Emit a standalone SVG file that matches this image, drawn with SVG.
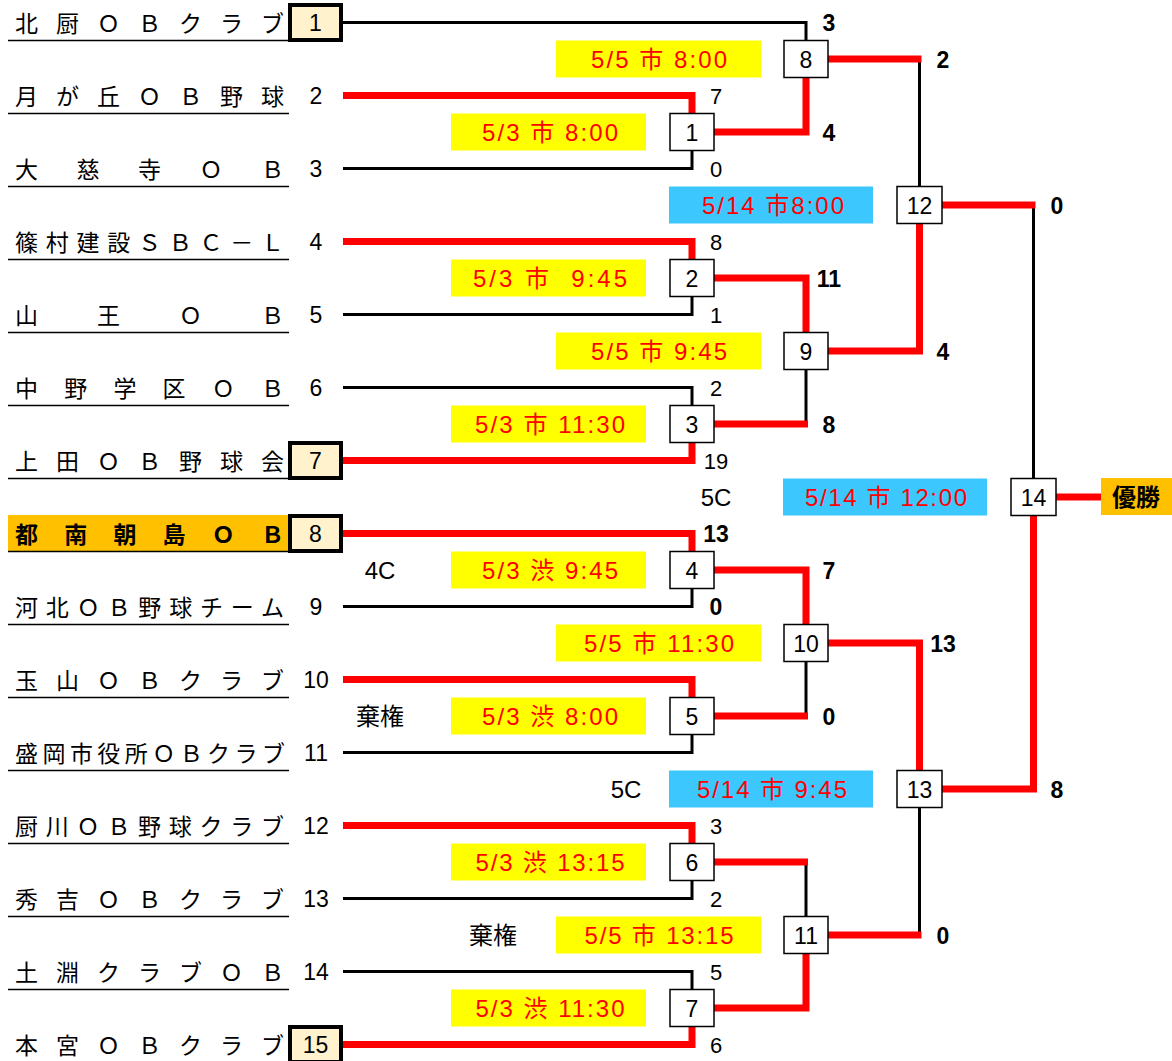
<svg xmlns="http://www.w3.org/2000/svg" width="1172" height="1061" viewBox="0 0 1172 1061">
<style>
.bg{fill:#fff}
.name{font-family:"Noto Sans CJK JP","Noto Sans",sans-serif;font-size:23px;fill:#000}
.nameb{font-weight:bold}
.ul{stroke:#000;stroke-width:1.6;fill:none}
.num{font-family:"Liberation Sans","Noto Sans CJK JP",sans-serif;font-size:23px;fill:#000;text-anchor:middle}
.sc{font-family:"Liberation Sans",sans-serif;font-size:22px;fill:#000;text-anchor:middle}
.scb{font-family:"Liberation Sans",sans-serif;font-size:23px;font-weight:bold;fill:#000;text-anchor:middle}
.seed{fill:#FFF2CC;stroke:#000;stroke-width:4}
.box{fill:#fff;stroke:#000;stroke-width:1.5}
.blk{fill:none;stroke:#000;stroke-width:3;stroke-linejoin:miter}
.red{fill:none;stroke:#FF0000;stroke-width:7;stroke-linejoin:miter}
.yl{fill:#FFFF00}
.bl{fill:#3CC8FF}
.dt{font-family:"Liberation Sans","Noto Sans CJK JP",sans-serif;font-size:24px;fill:#FF0000;text-anchor:middle;white-space:pre}
.note{font-family:"Liberation Sans","Noto Sans CJK JP",sans-serif;font-size:24px;fill:#000;text-anchor:middle}
.win{font-family:"Noto Sans CJK JP",sans-serif;font-size:24px;font-weight:bold;fill:#000;text-anchor:middle}
</style>
<rect class="bg" x="0" y="0" width="1172" height="1061"/>

<g id="connectors">
<path class="blk" d="M343,22.5 H806 V40.5"/>
<path class="blk" d="M343,168.5 H692 V150.5"/>
<path class="blk" d="M343,314.5 H692 V296.5"/>
<path class="blk" d="M343,387.5 H692 V405.5"/>
<path class="blk" d="M343,606.5 H692 V588.5"/>
<path class="blk" d="M343,752.5 H692 V734.5"/>
<path class="blk" d="M343,898.5 H692 V880.5"/>
<path class="blk" d="M343,971.5 H692 V989.5"/>
<path class="blk" d="M806,424 V369.5"/>
<path class="blk" d="M806,716 V661.5"/>
<path class="blk" d="M806,862 V916.5"/>
<path class="blk" d="M919.5,59 V186.5"/>
<path class="blk" d="M919.5,935 V807.5"/>
<path class="blk" d="M1033.5,205 V478.5"/>

<path class="red" d="M343,95.5 H692 V113.5"/>
<path class="red" d="M343,241.5 H692 V259.5"/>
<path class="red" d="M343,460.5 H692 V442.5"/>
<path class="red" d="M343,533.5 H692 V551.5"/>
<path class="red" d="M343,679.5 H692 V697.5"/>
<path class="red" d="M343,825.5 H692 V843.5"/>
<path class="red" d="M343,1044.5 H692 V1026.5"/>
<path class="red" d="M714,132 H806 V77.5"/>
<path class="red" d="M714,278 H806 V332.5"/>
<path class="red" d="M714,424 H808"/>
<path class="red" d="M714,570 H806 V624.5"/>
<path class="red" d="M714,716 H808"/>
<path class="red" d="M714,862 H808"/>
<path class="red" d="M714,1008 H806 V953.5"/>
<path class="red" d="M828,59 H921.5"/>
<path class="red" d="M828,351 H919.5 V223.5"/>
<path class="red" d="M828,643 H919.5 V770.5"/>
<path class="red" d="M828,935 H921.5"/>
<path class="red" d="M942,205 H1035.5"/>
<path class="red" d="M942,789 H1033.5 V515.5"/>
<path class="red" d="M1056,497 H1101"/>
</g>

<g id="teams">
<g id="team1"><text class="name" x="15" y="31.5" textLength="269" lengthAdjust="spacing">北厨ＯＢクラブ</text><line class="ul" x1="8" y1="40.5" x2="289" y2="40.5"/><rect class="seed" x="290" y="5" width="51" height="35"/><text class="num" x="315.5" y="31">1</text></g>
<g id="team2"><text class="name" x="15" y="104.5" textLength="269" lengthAdjust="spacing">月が丘ＯＢ野球</text><line class="ul" x1="8" y1="113.5" x2="289" y2="113.5"/><text class="num" x="316" y="104">2</text></g>
<g id="team3"><text class="name" x="15" y="177.5" textLength="269" lengthAdjust="spacing">大慈寺ＯＢ</text><line class="ul" x1="8" y1="186.5" x2="289" y2="186.5"/><text class="num" x="316" y="177">3</text></g>
<g id="team4"><text class="name" x="15" y="250.5" textLength="269" lengthAdjust="spacing">篠村建設ＳＢＣ－Ｌ</text><line class="ul" x1="8" y1="259.5" x2="289" y2="259.5"/><text class="num" x="316" y="250">4</text></g>
<g id="team5"><text class="name" x="15" y="323.5" textLength="269" lengthAdjust="spacing">山王ＯＢ</text><line class="ul" x1="8" y1="332.5" x2="289" y2="332.5"/><text class="num" x="316" y="323">5</text></g>
<g id="team6"><text class="name" x="15" y="396.5" textLength="269" lengthAdjust="spacing">中野学区ＯＢ</text><line class="ul" x1="8" y1="405.5" x2="289" y2="405.5"/><text class="num" x="316" y="396">6</text></g>
<g id="team7"><text class="name" x="15" y="469.5" textLength="269" lengthAdjust="spacing">上田ＯＢ野球会</text><line class="ul" x1="8" y1="478.5" x2="289" y2="478.5"/><rect class="seed" x="290" y="443" width="51" height="35"/><text class="num" x="315.5" y="469">7</text></g>
<g id="team8"><rect x="8" y="515" width="280" height="36" fill="#FFC000"/><text class="name nameb" x="15" y="542.5" textLength="269" lengthAdjust="spacing">都南朝島ＯＢ</text><line class="ul" x1="8" y1="551.5" x2="289" y2="551.5"/><rect class="seed" x="290" y="516" width="51" height="35"/><text class="num" x="315.5" y="542">8</text></g>
<g id="team9"><text class="name" x="15" y="615.5" textLength="269" lengthAdjust="spacing">河北ＯＢ野球チーム</text><line class="ul" x1="8" y1="624.5" x2="289" y2="624.5"/><text class="num" x="316" y="615">9</text></g>
<g id="team10"><text class="name" x="15" y="688.5" textLength="269" lengthAdjust="spacing">玉山ＯＢクラブ</text><line class="ul" x1="8" y1="697.5" x2="289" y2="697.5"/><text class="num" x="316" y="688">10</text></g>
<g id="team11"><text class="name" x="15" y="761.5" textLength="270" lengthAdjust="spacing">盛岡市役所ＯＢクラブ</text><line class="ul" x1="8" y1="770.5" x2="289" y2="770.5"/><text class="num" x="316" y="761">11</text></g>
<g id="team12"><text class="name" x="15" y="834.5" textLength="269" lengthAdjust="spacing">厨川ＯＢ野球クラブ</text><line class="ul" x1="8" y1="843.5" x2="289" y2="843.5"/><text class="num" x="316" y="834">12</text></g>
<g id="team13"><text class="name" x="15" y="907.5" textLength="269" lengthAdjust="spacing">秀吉ＯＢクラブ</text><line class="ul" x1="8" y1="916.5" x2="289" y2="916.5"/><text class="num" x="316" y="907">13</text></g>
<g id="team14"><text class="name" x="15" y="980.5" textLength="269" lengthAdjust="spacing">土淵クラブＯＢ</text><line class="ul" x1="8" y1="989.5" x2="289" y2="989.5"/><text class="num" x="316" y="980">14</text></g>
<g id="team15"><text class="name" x="15" y="1053.5" textLength="269" lengthAdjust="spacing">本宮ＯＢクラブ</text><rect class="seed" x="290" y="1027" width="51" height="35"/><text class="num" x="315.5" y="1053">15</text></g>
</g>

<g id="labels">
<rect class="yl" x="451" y="113.5" width="195" height="37"/><text class="dt" x="550" y="141" textLength="136" lengthAdjust="spacing">5/3 市 8:00</text>
<rect class="yl" x="451" y="259.5" width="195" height="37"/><text class="dt" x="550" y="287" textLength="154" lengthAdjust="spacing">5/3 市  9:45</text>
<rect class="yl" x="451" y="405.5" width="195" height="37"/><text class="dt" x="550" y="433" textLength="150" lengthAdjust="spacing">5/3 市 11:30</text>
<rect class="yl" x="451" y="551.5" width="195" height="37"/><text class="dt" x="550" y="579" textLength="136" lengthAdjust="spacing">5/3 渋 9:45</text>
<rect class="yl" x="451" y="697.5" width="195" height="37"/><text class="dt" x="550" y="725" textLength="136" lengthAdjust="spacing">5/3 渋 8:00</text>
<rect class="yl" x="451" y="843.5" width="195" height="37"/><text class="dt" x="550" y="871" textLength="149" lengthAdjust="spacing">5/3 渋 13:15</text>
<rect class="yl" x="451" y="989.5" width="195" height="37"/><text class="dt" x="550" y="1017" textLength="149" lengthAdjust="spacing">5/3 渋 11:30</text>
<rect class="yl" x="556" y="40.5" width="205" height="37"/><text class="dt" x="659" y="68" textLength="136" lengthAdjust="spacing">5/5 市 8:00</text>
<rect class="yl" x="556" y="332.5" width="205" height="37"/><text class="dt" x="659" y="360" textLength="136" lengthAdjust="spacing">5/5 市 9:45</text>
<rect class="yl" x="556" y="624.5" width="205" height="37"/><text class="dt" x="659" y="652" textLength="150" lengthAdjust="spacing">5/5 市 11:30</text>
<rect class="yl" x="556" y="916.5" width="205" height="37"/><text class="dt" x="659" y="944" textLength="149" lengthAdjust="spacing">5/5 市 13:15</text>
<rect class="bl" x="669" y="186.5" width="204" height="37"/><text class="dt" x="773" y="214" textLength="142" lengthAdjust="spacing">5/14 市8:00</text>
<rect class="bl" x="669" y="770.5" width="204" height="37"/><text class="dt" x="772" y="798" textLength="150" lengthAdjust="spacing">5/14 市 9:45</text>
<rect class="bl" x="783" y="478.5" width="204" height="37"/><text class="dt" x="886" y="506" textLength="162" lengthAdjust="spacing">5/14 市 12:00</text>
<text class="note" x="716" y="506">5C</text>
<text class="note" x="380" y="579">4C</text>
<text class="note" x="380" y="725">棄権</text>
<text class="note" x="626" y="798">5C</text>
<text class="note" x="493" y="944">棄権</text>
</g>

<g id="scores">
<text class="sc" x="716" y="104">7</text>
<text class="sc" x="716" y="177">0</text>
<text class="sc" x="716" y="250">8</text>
<text class="sc" x="716" y="323">1</text>
<text class="sc" x="716" y="396">2</text>
<text class="sc" x="716" y="469">19</text>
<text class="scb" x="716" y="542">13</text>
<text class="scb" x="716" y="615">0</text>
<text class="sc" x="716" y="834">3</text>
<text class="sc" x="716" y="907">2</text>
<text class="sc" x="716" y="980">5</text>
<text class="sc" x="716" y="1053">6</text>
<text class="scb" x="829" y="31">3</text>
<text class="scb" x="829" y="141">4</text>
<text class="scb" x="829" y="287">11</text>
<text class="scb" x="829" y="433">8</text>
<text class="scb" x="829" y="579">7</text>
<text class="scb" x="829" y="725">0</text>
<text class="scb" x="943" y="68">2</text>
<text class="scb" x="943" y="360">4</text>
<text class="scb" x="943" y="652">13</text>
<text class="scb" x="943" y="944">0</text>
<text class="scb" x="1057" y="214">0</text>
<text class="scb" x="1057" y="798">8</text>
</g>

<g id="m1"><rect class="box" x="670" y="113.5" width="44" height="37"/><text class="num" x="692" y="140.5">1</text></g>
<g id="m2"><rect class="box" x="670" y="259.5" width="44" height="37"/><text class="num" x="692" y="286.5">2</text></g>
<g id="m3"><rect class="box" x="670" y="405.5" width="44" height="37"/><text class="num" x="692" y="432.5">3</text></g>
<g id="m4"><rect class="box" x="670" y="551.5" width="44" height="37"/><text class="num" x="692" y="578.5">4</text></g>
<g id="m5"><rect class="box" x="670" y="697.5" width="44" height="37"/><text class="num" x="692" y="724.5">5</text></g>
<g id="m6"><rect class="box" x="670" y="843.5" width="44" height="37"/><text class="num" x="692" y="870.5">6</text></g>
<g id="m7"><rect class="box" x="670" y="989.5" width="44" height="37"/><text class="num" x="692" y="1016.5">7</text></g>
<g id="m8"><rect class="box" x="784" y="40.5" width="44" height="37"/><text class="num" x="806" y="67.5">8</text></g>
<g id="m9"><rect class="box" x="784" y="332.5" width="44" height="37"/><text class="num" x="806" y="359.5">9</text></g>
<g id="m10"><rect class="box" x="784" y="624.5" width="44" height="37"/><text class="num" x="806" y="651.5">10</text></g>
<g id="m11"><rect class="box" x="784" y="916.5" width="44" height="37"/><text class="num" x="806" y="943.5">11</text></g>
<g id="m12"><rect class="box" x="897" y="186.5" width="45" height="37"/><text class="num" x="919.5" y="213.5">12</text></g>
<g id="m13"><rect class="box" x="897" y="770.5" width="45" height="37"/><text class="num" x="919.5" y="797.5">13</text></g>
<g id="m14"><rect class="box" x="1011" y="478.5" width="45" height="37"/><text class="num" x="1033.5" y="505.5">14</text></g>
<g id="champion"><rect x="1101" y="478" width="71" height="37" fill="#FFC000"/><text class="win" x="1136" y="506">優勝</text></g>
</svg>
